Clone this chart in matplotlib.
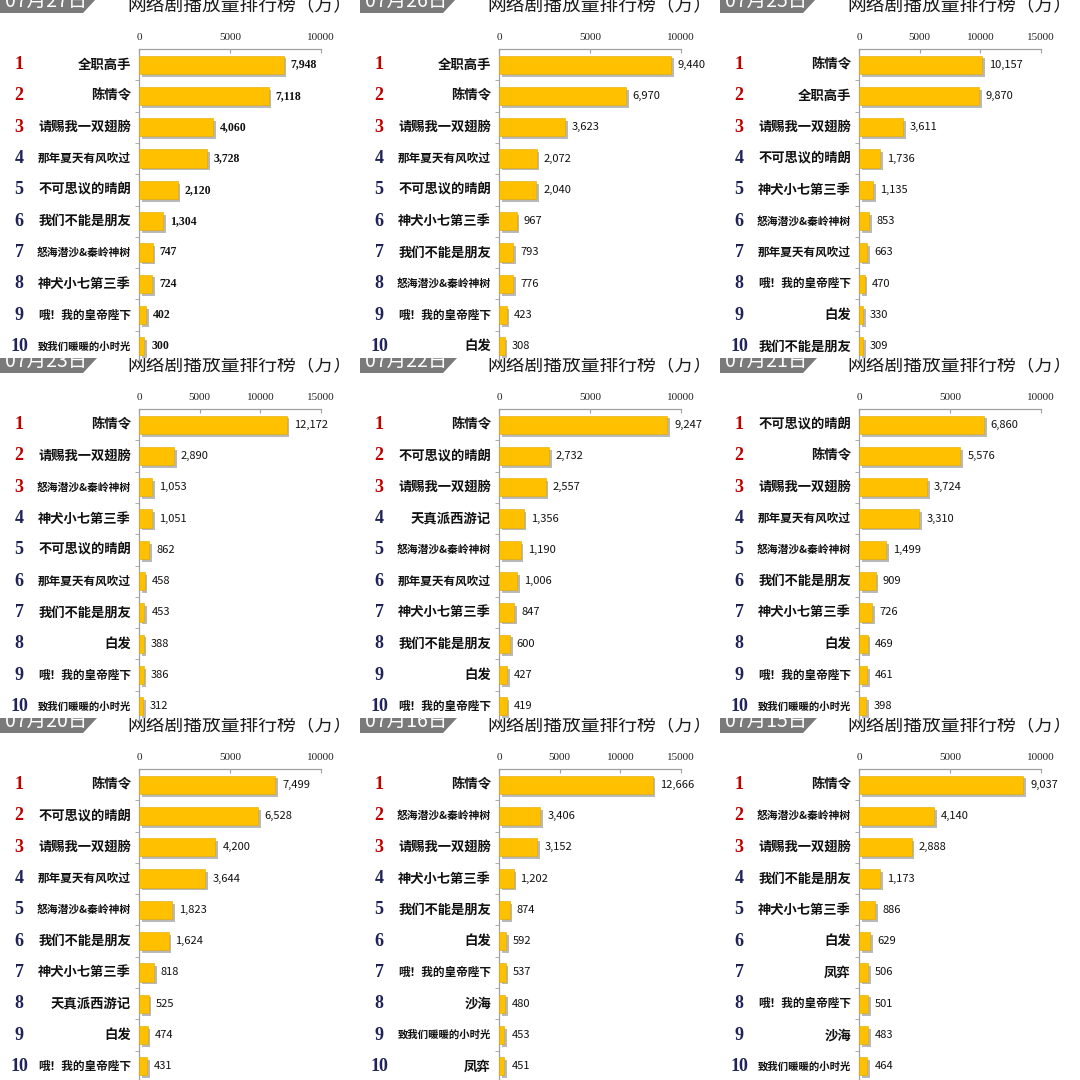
import numpy as np
import matplotlib
matplotlib.use("Agg")
import matplotlib.pyplot as plt
from matplotlib.patches import Polygon
from matplotlib.transforms import Bbox, TransformedBbox, blended_transform_factory
import matplotlib.patheffects as pe

plt.rcParams['font.family'] = ['Noto Sans CJK SC', 'DejaVu Sans']

# panel data, left-to-right, top-to-bottom
dates = ["07月27日", "07月26日", "07月25日",
         "07月23日", "07月22日", "07月21日",
         "07月20日", "07月16日", "07月15日"]

axis_max = [10000, 10000, 15000,
            15000, 10000, 10000,
            10000, 15000, 10000]

names = [
    ["全职高手", "陈情令", "请赐我一双翅膀", "那年夏天有风吹过", "不可思议的晴朗",
     "我们不能是朋友", "怒海潜沙&秦岭神树", "神犬小七第三季", "哦！我的皇帝陛下", "致我们暖暖的小时光"],
    ["全职高手", "陈情令", "请赐我一双翅膀", "那年夏天有风吹过", "不可思议的晴朗",
     "神犬小七第三季", "我们不能是朋友", "怒海潜沙&秦岭神树", "哦！我的皇帝陛下", "白发"],
    ["陈情令", "全职高手", "请赐我一双翅膀", "不可思议的晴朗", "神犬小七第三季",
     "怒海潜沙&秦岭神树", "那年夏天有风吹过", "哦！我的皇帝陛下", "白发", "我们不能是朋友"],
    ["陈情令", "请赐我一双翅膀", "怒海潜沙&秦岭神树", "神犬小七第三季", "不可思议的晴朗",
     "那年夏天有风吹过", "我们不能是朋友", "白发", "哦！我的皇帝陛下", "致我们暖暖的小时光"],
    ["陈情令", "不可思议的晴朗", "请赐我一双翅膀", "天真派西游记", "怒海潜沙&秦岭神树",
     "那年夏天有风吹过", "神犬小七第三季", "我们不能是朋友", "白发", "哦！我的皇帝陛下"],
    ["不可思议的晴朗", "陈情令", "请赐我一双翅膀", "那年夏天有风吹过", "怒海潜沙&秦岭神树",
     "我们不能是朋友", "神犬小七第三季", "白发", "哦！我的皇帝陛下", "致我们暖暖的小时光"],
    ["陈情令", "不可思议的晴朗", "请赐我一双翅膀", "那年夏天有风吹过", "怒海潜沙&秦岭神树",
     "我们不能是朋友", "神犬小七第三季", "天真派西游记", "白发", "哦！我的皇帝陛下"],
    ["陈情令", "怒海潜沙&秦岭神树", "请赐我一双翅膀", "神犬小七第三季", "我们不能是朋友",
     "白发", "哦！我的皇帝陛下", "沙海", "致我们暖暖的小时光", "凤弈"],
    ["陈情令", "怒海潜沙&秦岭神树", "请赐我一双翅膀", "我们不能是朋友", "神犬小七第三季",
     "白发", "凤弈", "哦！我的皇帝陛下", "沙海", "致我们暖暖的小时光"],
]

values = [
    [7948, 7118, 4060, 3728, 2120, 1304, 747, 724, 402, 300],
    [9440, 6970, 3623, 2072, 2040, 967, 793, 776, 423, 308],
    [10157, 9870, 3611, 1736, 1135, 853, 663, 470, 330, 309],
    [12172, 2890, 1053, 1051, 862, 458, 453, 388, 386, 312],
    [9247, 2732, 2557, 1356, 1190, 1006, 847, 600, 427, 419],
    [6860, 5576, 3724, 3310, 1499, 909, 726, 469, 461, 398],
    [7499, 6528, 4200, 3644, 1823, 1624, 818, 525, 474, 431],
    [12666, 3406, 3152, 1202, 874, 592, 537, 480, 453, 451],
    [9037, 4140, 2888, 1173, 886, 629, 506, 501, 483, 464],
]

title = "网络剧播放量排行榜（万）"

W = 1080.0
fig = plt.figure(figsize=(10.8, 10.8), dpi=100)
fig.patch.set_facecolor("white")


def fx(px):
    return px / W


def fy(py):
    return 1 - py / W


for k in range(9):
    row, col = divmod(k, 3)
    ox, oy = col * 360, row * 360

    ax = fig.add_axes([fx(ox + 139), fy(oy + 49 + 313), 182 / W, 313 / W])
    ranks = np.arange(len(values[k]))
    bars = ax.barh(ranks, values[k], height=0.58, color="#FFC000",
                   edgecolor="#E0A800", linewidth=0.4, zorder=3)
    for b in bars:
        b.set_path_effects([pe.SimplePatchShadow(offset=(2, -2), shadow_rgbFace="#808080", alpha=0.55),
                            pe.Normal()])

    ax.set_xlim(0, axis_max[k])
    ax.set_ylim(9.5, -0.5)
    ax.xaxis.tick_top()
    ax.set_xticks(np.arange(0, axis_max[k] + 1, 5000))
    ax.tick_params(axis="x", direction="in", length=3, color="#A0A0A0", pad=5,
                   labelsize=8, labelcolor="#222222")
    for t in ax.get_xticklabels():
        t.set_fontfamily("Liberation Serif")
    ax.set_yticks([])
    ax.set_yticks(np.arange(0.5, 9.5, 1), minor=True)
    ax.tick_params(axis="y", which="minor", direction="out", length=3, color="#A0A0A0")
    ax.set_yticklabels([], minor=True)
    for s in ["right", "bottom"]:
        ax.spines[s].set_visible(False)
    for s in ["top", "left"]:
        ax.spines[s].set_color("#A0A0A0")
        ax.spines[s].set_linewidth(0.9)
    ax.patch.set_alpha(0)

    # value labels
    for i, v in enumerate(values[k]):
        if k == 0:
            ax.annotate(f"{v:,}", (v, i), xytext=(5, 0), textcoords="offset points",
                        va="center", ha="left", fontsize=8.5, fontweight="bold",
                        family="Liberation Serif", color="#111111")
        else:
            ax.annotate(f"{v:,}", (v, i), xytext=(5, 0), textcoords="offset points",
                        va="center", ha="left", fontsize=8, color="#111111")

    # rank numbers and names
    tr = blended_transform_factory(fig.transFigure, ax.transData)
    for i, n in enumerate(names[k]):
        rank_color = "#C00000" if i < 3 else "#1F2356"
        fig.text(fx(ox + 19), i, str(i + 1), transform=tr, ha="center", va="center",
                 fontsize=13, fontweight="bold", family="Liberation Serif", color=rank_color)
        nchar = len(n) - 0.4 * n.count("&")
        size = min(9.6, 67.0 / nchar)
        fig.text(fx(ox + 131), i, n, transform=tr, ha="right", va="center",
                 fontsize=size, fontweight="bold", color="#111111")

    # header: date tab and title, cut at the top like the screenshot
    clip = TransformedBbox(Bbox.from_extents(fx(ox), fy(oy + 40), fx(ox + 360), fy(oy - 2)),
                           fig.transFigure)
    tab = Polygon([(fx(ox), fy(oy - 2)), (fx(ox + 97), fy(oy - 2)),
                   (fx(ox + 83), fy(oy + 13)), (fx(ox), fy(oy + 13))],
                  closed=True, transform=fig.transFigure, facecolor="#7A7A7A",
                  edgecolor="none", zorder=5)
    fig.patches.append(tab)
    t1 = fig.text(fx(ox + 5), fy(oy + 1), dates[k], ha="left", va="center",
                  fontsize=14, color="white", zorder=6)
    t1.set_clip_box(clip)
    t1.set_clip_on(True)
    t2 = fig.text(fx(ox + 127), fy(oy + 6), title, ha="left", va="center",
                  fontsize=13.5, color="#1A1A1A", zorder=6)
    t2.set_clip_box(clip)
    t2.set_clip_on(True)

fig.savefig("out.png", dpi=100)
